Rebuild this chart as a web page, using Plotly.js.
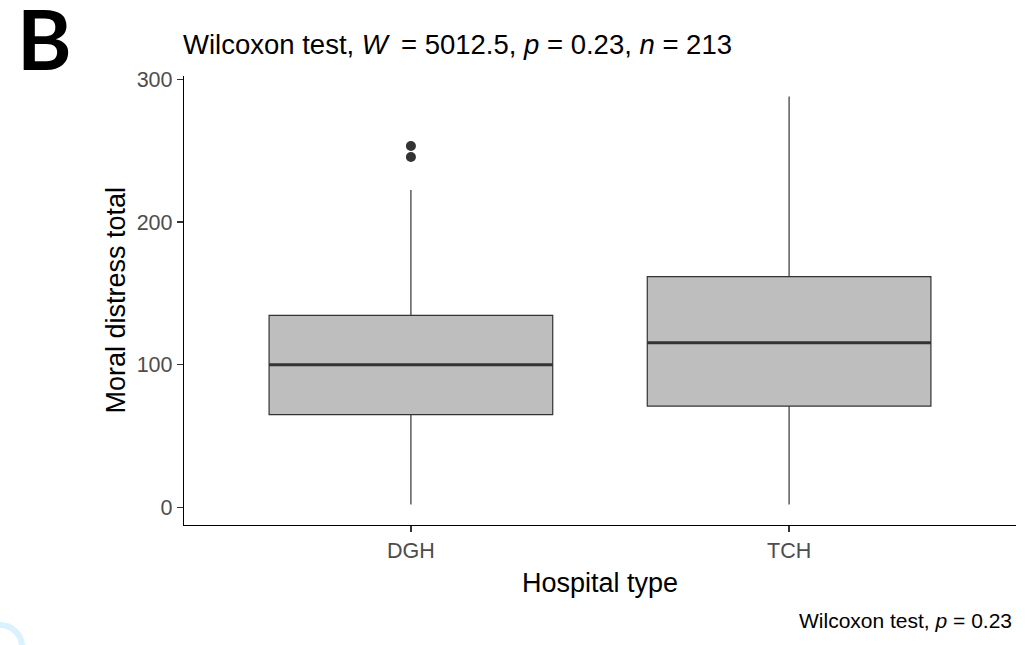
<!DOCTYPE html>
<html>
<head>
<meta charset="utf-8">
<script src="https://cdn.plot.ly/plotly-3.0.1.min.js"></script>
<style>
  html, body { margin: 0; padding: 0; background: #ffffff; }
  #chart { width: 1033px; height: 645px; }
</style>
</head>
<body>
<div id="chart"></div>
<script>
// Moral distress total by hospital type (box summaries)
const hospitalTypes = ["DGH", "TCH"];
const lowerWhisker  = [2, 2];
const q1Values      = [65, 71];
const medianValues  = [100, 115.4];
const q3Values      = [134.6, 161.7];
const upperWhisker  = [222.4, 288];

// Points beyond the upper whisker
const outlierGroup  = ["DGH", "DGH"];
const outlierValues = [253.3, 245.6];

const positions = hospitalTypes.map((_, i) => i + 1);
const boxWidth = 0.75;
const darkLine = "#333333";

const boxTrace = {
  type: "box",
  x: positions,
  lowerfence: lowerWhisker,
  q1: q1Values,
  median: medianValues,
  q3: q3Values,
  upperfence: upperWhisker,
  width: boxWidth,
  whiskerwidth: 0,
  fillcolor: "#bebebe",
  line: { color: darkLine, width: 1.2 },
  boxpoints: false,
  hoverinfo: "skip",
  showlegend: false
};

// Thicker median bars drawn over the boxes
const medX = [], medY = [];
positions.forEach((p, i) => {
  medX.push(p - boxWidth / 2, p + boxWidth / 2, null);
  medY.push(medianValues[i], medianValues[i], null);
});
const medianTrace = {
  type: "scatter",
  mode: "lines",
  x: medX,
  y: medY,
  line: { color: darkLine, width: 3 },
  hoverinfo: "skip",
  showlegend: false
};

const outlierTrace = {
  type: "scatter",
  mode: "markers",
  x: outlierGroup.map(g => hospitalTypes.indexOf(g) + 1),
  y: outlierValues,
  marker: { color: darkLine, size: 10 },
  hoverinfo: "skip",
  showlegend: false
};

const baseFont = "Liberation Sans, Arial, sans-serif";

// plot area in pixels
const L = 184, R = 1016, T = 76, B = 525;
const PW = R - L, PH = B - T;
const px = x => (x - L) / PW;
const py = y => (B - y) / PH;

const layout = {
  width: 1033,
  height: 645,
  paper_bgcolor: "#ffffff",
  plot_bgcolor: "#ffffff",
  margin: { l: L, r: 1033 - R, t: T, b: 645 - B },
  font: { family: baseFont, color: "#000000" },
  title: {
    text: "Wilcoxon test, <i>W</i>&#8201; = 5012.5, <i>p</i> = 0.23, <i>n</i> = 213",
    font: { family: baseFont, size: 27.5, color: "#000000" },
    x: 183 / 1033,
    xref: "container",
    xanchor: "left",
    y: 1 - 44 / 645,
    yref: "container",
    yanchor: "middle"
  },
  xaxis: {
    range: [0.4, 2.6],
    tickmode: "array",
    tickvals: positions,
    ticktext: hospitalTypes,
    showgrid: false,
    zeroline: false,
    showline: true,
    linecolor: "#000000",
    linewidth: 1.2,
    ticks: "outside",
    ticklen: 6,
    tickwidth: 1.2,
    tickcolor: "#333333",
    tickfont: { family: baseFont, size: 21.5, color: "#4d4d4d" }
  },
  yaxis: {
    range: [-12.3, 302.3],
    tickvals: [0, 100, 200, 300],
    showgrid: false,
    zeroline: false,
    showline: true,
    linecolor: "#000000",
    linewidth: 1.2,
    ticks: "outside",
    ticklen: 6,
    tickwidth: 1.2,
    tickcolor: "#333333",
    tickfont: { family: baseFont, size: 21.5, color: "#4d4d4d" }
  },
  annotations: [
    {
      text: "Hospital type",
      xref: "paper", yref: "paper",
      x: 0.5, y: py(583),
      xanchor: "center", yanchor: "middle",
      showarrow: false,
      font: { family: baseFont, size: 27, color: "#000000" }
    },
    {
      text: "Moral distress total",
      xref: "paper", yref: "paper",
      x: px(115), y: 0.5,
      xanchor: "center", yanchor: "middle",
      textangle: -90,
      showarrow: false,
      font: { family: baseFont, size: 27, color: "#000000" }
    },
    {
      text: "<b>B</b>",
      xref: "paper", yref: "paper",
      x: px(15), y: py(38),
      xanchor: "left", yanchor: "middle",
      showarrow: false,
      font: { family: "Lato, Roboto, sans-serif", size: 83, color: "#000000" }
    },
    {
      text: "Wilcoxon test, <i>p</i> = 0.23",
      xref: "paper", yref: "paper",
      x: px(1014), y: py(620),
      xanchor: "right", yanchor: "middle",
      showarrow: false,
      font: { family: baseFont, size: 21, color: "#000000" }
    }
  ],
  shapes: [
    {
      type: "circle",
      xref: "paper", yref: "paper",
      xsizemode: "pixel", ysizemode: "pixel",
      xanchor: px(0), yanchor: py(647),
      x0: -22, x1: 22, y0: -22, y1: 22,
      line: { color: "#d9f2fd", width: 6 },
      layer: "above"
    }
  ]
};

Plotly.newPlot("chart", [boxTrace, medianTrace, outlierTrace], layout, { displayModeBar: false, staticPlot: true });
</script>
</body>
</html>
